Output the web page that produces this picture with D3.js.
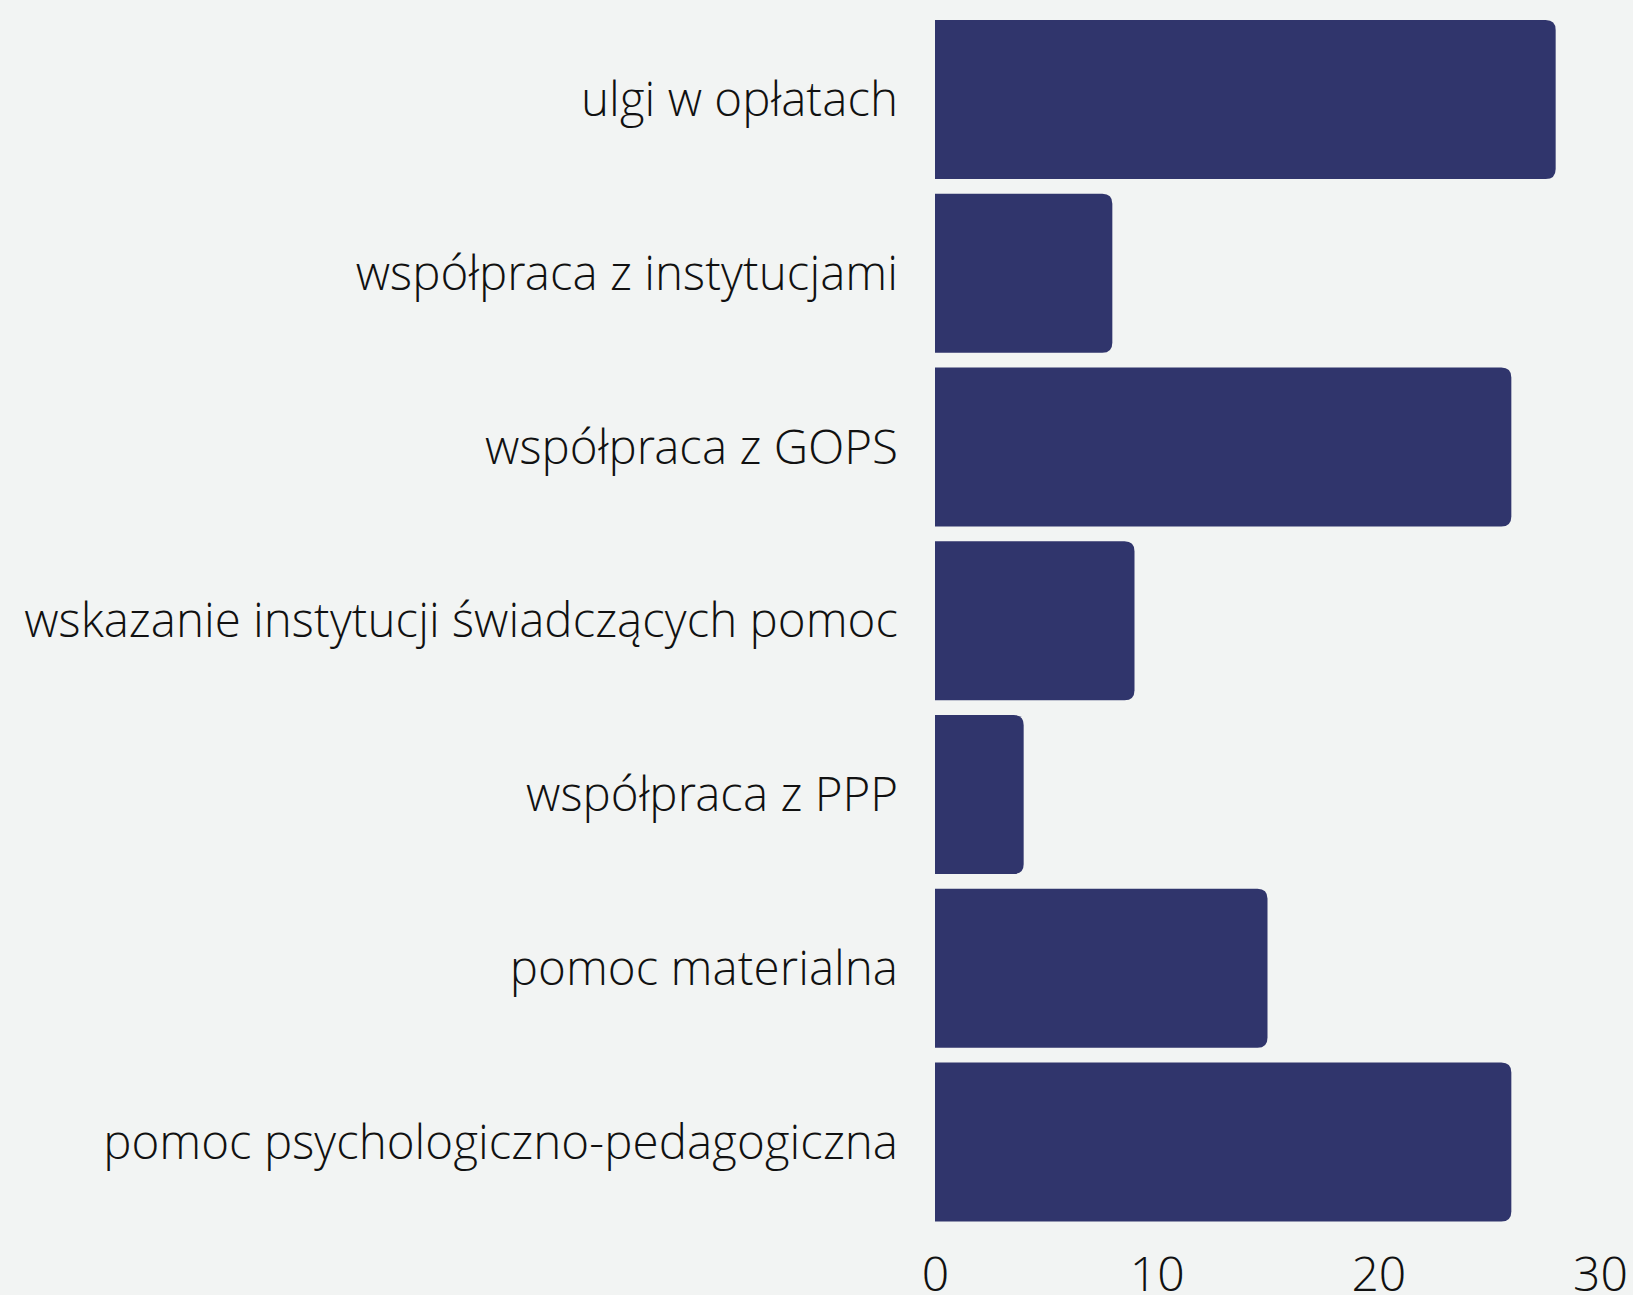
<!DOCTYPE html>
<html>
<head>
<meta charset="utf-8">
<script src="https://cdn.jsdelivr.net/npm/d3@7"></script>
<style>
  html, body { margin: 0; padding: 0; background: #f2f4f3; }
  svg text { font-family: "Open Sans Light", "Open Sans", sans-serif; font-weight: 300; fill: #111; }
</style>
</head>
<body>
<div class="chart"></div>
<script>
var categories = [
    "ulgi w opłatach",
    "współpraca z instytucjami",
    "współpraca z GOPS",
    "wskazanie instytucji świadczących pomoc",
    "współpraca z PPP",
    "pomoc materialna",
    "pomoc psychologiczno-pedagogiczna"
];
var values = [28, 8, 26, 9, 4, 15, 26];
var ticks = [0, 10, 20, 30];

var width = 1633, height = 1295;

var svg = d3.select(".chart")
    .append("svg")
    .attr("width", width)
    .attr("height", height);

var x = d3.scaleLinear().domain([0, 30]).range([935, 1600]);
var y = d3.scaleBand()
    .domain(categories)
    .range([20, 1221.5])
    .paddingInner(0.085)
    .paddingOuter(0);

var r = 10;

// bars, rounded on the right side only
svg.append("g")
    .selectAll("path")
    .data(values)
    .enter().append("path")
    .attr("fill", "#30356c")
    .attr("d", function(d, i) {
        var x0 = x(0), x1 = x(d), y0 = y(categories[i]), y1 = y0 + y.bandwidth();
        return "M" + x0 + "," + y0 +
            "H" + (x1 - r) +
            "Q" + x1 + "," + y0 + " " + x1 + "," + (y0 + r) +
            "V" + (y1 - r) +
            "Q" + x1 + "," + y1 + " " + (x1 - r) + "," + y1 +
            "H" + x0 + "Z";
    });

// category labels
svg.append("g")
    .selectAll("text")
    .data(categories)
    .enter().append("text")
    .attr("x", 898)
    .attr("y", function(d) { return y(d) + y.bandwidth() / 2; })
    .attr("dy", "0.35em")
    .attr("text-anchor", "end")
    .style("font-size", "47.5px")
    .text(function(d) { return d; });

// x axis labels
var xAxis = d3.axisBottom(x).tickValues(ticks).tickSize(0).tickPadding(0);
var gx = svg.append("g")
    .attr("transform", "translate(0,1291)")
    .call(xAxis);
gx.select(".domain").remove();
gx.selectAll("text")
    .attr("y", 0)
    .attr("dy", 0)
    .style("font-size", "48px")
    .attr("fill", "#111");
</script>
</body>
</html>
